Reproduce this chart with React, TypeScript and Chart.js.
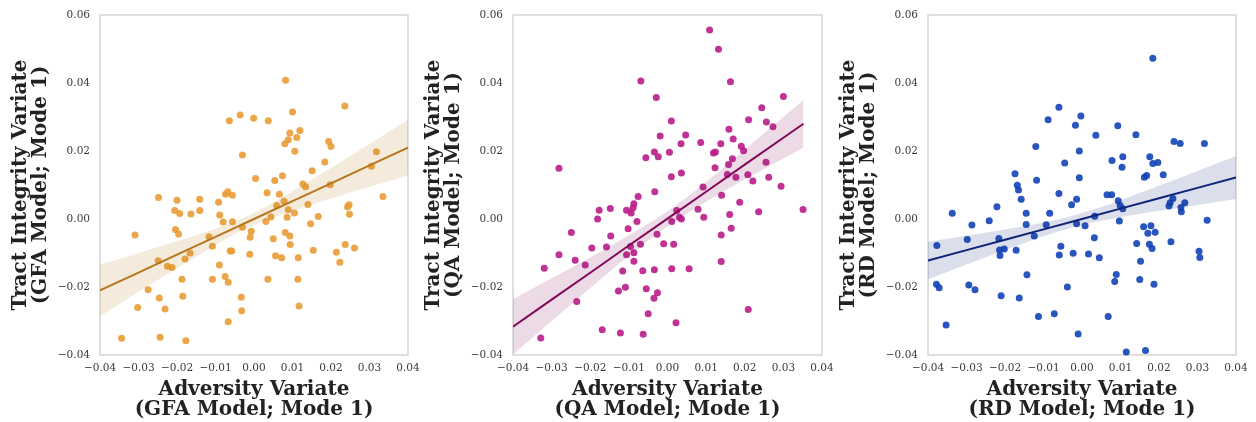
import { useEffect, useRef } from 'react';
import { Chart, registerables } from 'chart.js';

Chart.register(...registerables);

// ---------- data ----------
const gfaX = [0.0082, 0.0236, 0.0100, -0.0064, -0.0036, -0.0001, 0.0037, 0.0093, 0.0119, 0.0089, 0.0111, 0.0080, 0.0106, 0.0194, 0.0200, 0.0318, 0.0305, 0.0335, -0.0030, 0.0184, 0.0151, 0.0004, 0.0054, 0.0074, 0.0034, 0.0066, 0.0127, 0.0134, 0.0198, 0.0078, 0.0059, 0.0089, 0.0105, 0.0140, 0.0243, 0.0247, 0.0248, 0.0086, 0.0044, 0.0031, 0.0167, 0.0147, 0.0081, 0.0093, 0.0094, 0.0050, 0.0237, 0.0261, 0.0214, 0.0223, 0.0154, 0.0115, 0.0056, 0.0072, 0.0036, 0.0114, 0.0117, -0.0011, -0.0010, -0.0007, -0.0030, -0.0056, -0.0080, -0.0089, -0.0092, -0.0074, -0.0068, -0.0056, -0.0141, -0.0141, -0.0164, -0.0200, -0.0206, -0.0193, -0.0248, -0.0204, -0.0196, -0.0309, -0.0117, -0.0108, -0.0062, -0.0058, -0.0166, -0.0179, -0.0249, -0.0225, -0.0213, -0.0090, -0.0187, -0.0108, -0.0075, -0.0067, -0.0275, -0.0246, -0.0185, -0.0302, -0.0231, -0.0033, -0.0032, -0.0067, -0.0344, -0.0244, -0.0177];
const gfaY = [0.0408, 0.0332, 0.0315, 0.0289, 0.0306, 0.0296, 0.0289, 0.0253, 0.0260, 0.0233, 0.0240, 0.0221, 0.0199, 0.0228, 0.0213, 0.0198, 0.0155, 0.0066, 0.0188, 0.0168, 0.0142, 0.0119, 0.0113, 0.0127, 0.0077, 0.0073, 0.0103, 0.0095, 0.0101, 0.0052, 0.0040, 0.0027, 0.0018, 0.0043, 0.0035, 0.0042, 0.0014, 0.0005, 0.0006, -0.0007, 0.0007, -0.0014, -0.0040, -0.0050, -0.0075, -0.0058, -0.0075, -0.0085, -0.0098, -0.0127, -0.0092, -0.0114, -0.0108, -0.0114, -0.0177, -0.0177, -0.0256, -0.0104, -0.0054, -0.0036, -0.0024, -0.0008, -0.0009, 0.0012, 0.0049, 0.0073, 0.0080, 0.0070, 0.0058, 0.0025, 0.0015, 0.0055, 0.0025, 0.0016, 0.0063, -0.0031, -0.0044, -0.0047, -0.0052, -0.0080, -0.0094, -0.0094, -0.0100, -0.0118, -0.0123, -0.0139, -0.0143, -0.0135, -0.0177, -0.0177, -0.0169, -0.0186, -0.0208, -0.0232, -0.0227, -0.0260, -0.0265, -0.0230, -0.0270, -0.0302, -0.0351, -0.0348, -0.0358];

const qaX = [0.0109, 0.0132, -0.0069, 0.0163, -0.0029, 0.0300, 0.0244, 0.0210, 0.0256, 0.0273, 0.0010, 0.0159, -0.0019, 0.0047, 0.0170, 0.0035, 0.0086, 0.0138, 0.0191, 0.0197, 0.0119, 0.0124, 0.0005, -0.0034, -0.0024, -0.0056, 0.0168, 0.0123, 0.0158, 0.0255, 0.0155, 0.0177, 0.0208, 0.0221, 0.0262, 0.0294, 0.0010, 0.0036, -0.0281, 0.0092, -0.0033, -0.0076, 0.0140, 0.0187, 0.0079, 0.0094, 0.0161, 0.0236, 0.0351, 0.0024, 0.0031, 0.0036, 0.0011, -0.0087, -0.0089, -0.0106, -0.0094, -0.0079, -0.0148, -0.0177, -0.0181, -0.0102, -0.0147, -0.0249, -0.0158, -0.0196, -0.0281, -0.0239, -0.0213, -0.0319, -0.0235, -0.0096, -0.0087, -0.0106, -0.0070, -0.0087, -0.0027, -0.0010, 0.0016, -0.0116, -0.0064, -0.0034, 0.0011, 0.0056, 0.0139, 0.0165, 0.0139, -0.0109, -0.0127, -0.0055, -0.0026, -0.0035, 0.0209, -0.0050, 0.0022, -0.0169, -0.0122, -0.0063, -0.0328];
const qaY = [0.0556, 0.0499, 0.0406, 0.0404, 0.0357, 0.0360, 0.0327, 0.0292, 0.0285, 0.0271, 0.0288, 0.0264, 0.0244, 0.0247, 0.0235, 0.0221, 0.0225, 0.0221, 0.0214, 0.0201, 0.0194, 0.0197, 0.0196, 0.0197, 0.0183, 0.0180, 0.0177, 0.0151, 0.0160, 0.0167, 0.0131, 0.0123, 0.0130, 0.0112, 0.0123, 0.0096, 0.0124, 0.0135, 0.0149, 0.0094, 0.0080, 0.0066, 0.0070, 0.0049, 0.0029, 0.0005, 0.0013, 0.0021, 0.0028, 0.0025, 0.0005, 0.0000, -0.0007, 0.0045, 0.0033, 0.0026, 0.0018, -0.0007, 0.0031, 0.0026, 0.0000, -0.0029, -0.0050, -0.0040, -0.0082, -0.0085, -0.0105, -0.0121, -0.0135, -0.0145, -0.0243, -0.0081, -0.0099, -0.0105, -0.0074, -0.0124, -0.0045, -0.0073, -0.0074, -0.0153, -0.0152, -0.0149, -0.0146, -0.0146, -0.0047, -0.0027, -0.0125, -0.0201, -0.0212, -0.0205, -0.0217, -0.0233, -0.0266, -0.0279, -0.0305, -0.0326, -0.0335, -0.0339, -0.0350];

const rdX = [0.0184, -0.0060, -0.0088, -0.0003, -0.0017, 0.0093, 0.0036, 0.0140, 0.0239, 0.0255, 0.0318, -0.0120, -0.0007, -0.0045, 0.0078, 0.0106, 0.0104, 0.0176, 0.0184, 0.0197, 0.0211, 0.0162, 0.0168, -0.0007, -0.0118, -0.0174, -0.0168, -0.0165, -0.0158, -0.0060, -0.0014, -0.0027, 0.0065, 0.0077, 0.0094, 0.0099, 0.0106, 0.0236, 0.0229, 0.0226, 0.0267, 0.0257, 0.0258, 0.0325, -0.0221, -0.0337, -0.0241, -0.0286, -0.0145, -0.0145, -0.0084, -0.0093, -0.0014, 0.0008, 0.0033, 0.0097, 0.0160, 0.0179, 0.0171, 0.0190, 0.0142, 0.0175, 0.0182, 0.0231, -0.0298, -0.0377, -0.0216, -0.0202, -0.0214, -0.0213, -0.0171, -0.0124, -0.0055, -0.0059, -0.0023, 0.0017, 0.0032, 0.0045, 0.0152, 0.0304, 0.0306, -0.0143, -0.0378, -0.0371, -0.0294, -0.0278, -0.0210, -0.0163, -0.0038, 0.0089, 0.0085, 0.0150, 0.0187, -0.0113, -0.0072, 0.0068, -0.0353, -0.0010, 0.0115, 0.0165];
const rdY = [0.0473, 0.0329, 0.0292, 0.0303, 0.0276, 0.0274, 0.0246, 0.0248, 0.0228, 0.0222, 0.0222, 0.0213, 0.0200, 0.0165, 0.0172, 0.0183, 0.0152, 0.0183, 0.0163, 0.0166, 0.0130, 0.0123, 0.0128, 0.0121, 0.0114, 0.0133, 0.0099, 0.0085, 0.0058, 0.0075, 0.0058, 0.0042, 0.0071, 0.0071, 0.0054, 0.0040, 0.0030, 0.0060, 0.0048, 0.0038, 0.0048, 0.0034, 0.0021, -0.0004, 0.0036, 0.0017, -0.0005, -0.0018, 0.0017, -0.0016, 0.0017, -0.0017, -0.0014, -0.0020, 0.0008, -0.0006, -0.0023, -0.0020, -0.0042, -0.0039, -0.0072, -0.0074, -0.0087, -0.0067, -0.0060, -0.0078, -0.0057, -0.0088, -0.0091, -0.0107, -0.0092, -0.0050, -0.0080, -0.0106, -0.0101, -0.0103, -0.0055, -0.0114, -0.0124, -0.0095, -0.0113, -0.0164, -0.0192, -0.0202, -0.0194, -0.0208, -0.0226, -0.0232, -0.0200, -0.0163, -0.0184, -0.0178, -0.0192, -0.0287, -0.0279, -0.0287, -0.0312, -0.0338, -0.0391, -0.0387];

// regression lines and confidence bands
const gfaFitX = [-0.04, -0.03, -0.02, -0.01, 0, 0.01, 0.02, 0.03, 0.04];
const gfaFitY = [-0.021, -0.01575, -0.0105, -0.00525, 0, 0.00525, 0.0105, 0.01575, 0.021];
const gfaBandLo = [-0.0286, -0.02145, -0.0145, -0.00765, -0.0018, 0.00235, 0.006, 0.00945, 0.0128];
const gfaBandHi = [-0.0134, -0.01005, -0.0065, -0.00285, 0.0018, 0.00815, 0.015, 0.02205, 0.0292];

const qaFitX = [-0.04, -0.03, -0.02, -0.01, 0, 0.01, 0.02, 0.03, 0.0352];
const qaFitY = [-0.0317, -0.0237, -0.0158, -0.0078, 0.0001, 0.008, 0.016, 0.0239, 0.028];
const qaBandLo = [-0.0398, -0.03, -0.0203, -0.0108, -0.0021, 0.0051, 0.0116, 0.0178, 0.021];
const qaBandHi = [-0.0236, -0.0174, -0.0113, -0.0048, 0.0023, 0.0109, 0.0204, 0.03, 0.035];

const rdFitX = [-0.04, -0.03, -0.02, -0.01, 0, 0.01, 0.02, 0.03, 0.04];
const rdFitY = [-0.0122, -0.00915, -0.0061, -0.00305, 0, 0.00305, 0.0061, 0.00915, 0.0122];
const rdBandLo = [-0.0177, -0.01335, -0.0091, -0.00505, -0.00175, 0.00055, 0.0024, 0.00415, 0.0059];
const rdBandHi = [-0.0067, -0.00495, -0.0031, -0.00105, 0.00175, 0.00555, 0.0098, 0.01415, 0.0185];

const xTitleTop = 'Adversity Variate';
const yTitleTop = 'Tract Integrity Variate';
const modelLabels = ['(GFA Model; Mode 1)', '(QA Model; Mode 1)', '(RD Model; Mode 1)'];

// ---------- layout & style ----------
const W = 1256;
const H = 422;
const PLOT_TOP = 15;
const PLOT_BOTTOM = 355;
const Y_AXIS_W = 100;
const FONT = "'DejaVu Serif', 'Liberation Serif', serif";

type Spec = {
  left: number;
  width: number;
  plotW: number;
  xs: number[];
  ys: number[];
  fitX: number[];
  fitY: number[];
  lo: number[];
  hi: number[];
  point: string;
  line: string;
  band: string;
  label: string;
};

const specs: Spec[] = [
  { left: 0, width: 420, plotW: 308, xs: gfaX, ys: gfaY, fitX: gfaFitX, fitY: gfaFitY, lo: gfaBandLo, hi: gfaBandHi,
    point: 'rgba(232,156,52,0.9)', line: 'rgb(183,118,30)', band: 'rgba(183,118,30,0.15)', label: modelLabels[0] },
  { left: 413, width: 420, plotW: 309, xs: qaX, ys: qaY, fitX: qaFitX, fitY: qaFitY, lo: qaBandLo, hi: qaBandHi,
    point: 'rgba(185,29,136,0.9)', line: 'rgb(128,8,88)', band: 'rgba(128,8,88,0.15)', label: modelLabels[1] },
  { left: 828, width: 428, plotW: 308, xs: rdX, ys: rdY, fitX: rdFitX, fitY: rdFitY, lo: rdBandLo, hi: rdBandHi,
    point: 'rgba(18,67,183,0.9)', line: 'rgb(12,35,120)', band: 'rgba(12,35,120,0.15)', label: modelLabels[2] },
];

const fmt = (v: any) => {
  const n = Number(v);
  if (Math.abs(n) < 1e-9) return '0.00';
  return n.toFixed(2).replace('-', '\u2212');
};

const framePlugin = {
  id: 'frame',
  beforeDatasetsDraw(chart: any) {
    const { ctx, chartArea } = chart;
    ctx.save();
    ctx.strokeStyle = '#cccccc';
    ctx.lineWidth = 1.25;
    ctx.strokeRect(chartArea.left, chartArea.top, chartArea.right - chartArea.left, chartArea.bottom - chartArea.top);
    ctx.restore();
  },
};

function Panel({ spec }: { spec: Spec }) {
  const ref = useRef<HTMLCanvasElement | null>(null);
  useEffect(() => {
    if (!ref.current) return;
    const pts = spec.xs.map((x, i) => ({ x, y: spec.ys[i] }));
    const fit = spec.fitX.map((x, i) => ({ x, y: spec.fitY[i] }));
    const hi = spec.fitX.map((x, i) => ({ x, y: spec.hi[i] }));
    const lo = spec.fitX.map((x, i) => ({ x, y: spec.lo[i] }));
    const chart = new Chart(ref.current, {
      type: 'scatter',
      data: {
        datasets: [
          { type: 'line', data: fit, borderColor: spec.line, borderWidth: 2, pointRadius: 0, fill: false, tension: 0 } as any,
          { type: 'line', data: hi, borderColor: 'transparent', borderWidth: 0, pointRadius: 0, fill: '+1', backgroundColor: spec.band, cubicInterpolationMode: 'monotone' } as any,
          { type: 'line', data: lo, borderColor: 'transparent', borderWidth: 0, pointRadius: 0, fill: false, cubicInterpolationMode: 'monotone' } as any,
          { type: 'scatter', data: pts, backgroundColor: spec.point, borderWidth: 0, pointRadius: 3.5, clip: 6 } as any,
        ],
      },
      options: {
        animation: false,
        responsive: false,
        maintainAspectRatio: false,
        devicePixelRatio: 1,
        layout: { padding: { top: PLOT_TOP, left: 0, bottom: 0, right: spec.width - Y_AXIS_W - spec.plotW } },
        plugins: { legend: { display: false }, tooltip: { enabled: false } },
        scales: {
          x: {
            type: 'linear',
            min: -0.04,
            max: 0.04,
            grid: { display: false, drawTicks: false },
            border: { display: false },
            ticks: { stepSize: 0.01, callback: fmt, color: '#3a3a3a', font: { family: FONT, size: 10.5 }, padding: 7, maxRotation: 0, autoSkip: false },
            title: { display: true, text: [xTitleTop, spec.label], color: '#222', font: { family: FONT, size: 20, weight: 'bold', lineHeight: 1 }, padding: { top: 0, bottom: 2 } },
            afterFit: (s: any) => { s.height = H - PLOT_BOTTOM; s.paddingLeft = 0; s.paddingRight = 0; },
          },
          y: {
            type: 'linear',
            min: -0.04,
            max: 0.06,
            grid: { display: false, drawTicks: false },
            border: { display: false },
            ticks: { stepSize: 0.02, callback: fmt, color: '#3a3a3a', font: { family: FONT, size: 10.5 }, padding: 10 },
            title: { display: true, text: [yTitleTop, spec.label], color: '#222', font: { family: FONT, size: 20, weight: 'bold', lineHeight: 1 }, padding: { top: 11, bottom: 0 } },
            afterFit: (s: any) => { s.width = Y_AXIS_W; s.paddingTop = 0; s.paddingBottom = 0; },
          },
        },
      } as any,
      plugins: [framePlugin],
    });
    return () => chart.destroy();
  }, [spec]);
  return (
    <canvas
      ref={ref}
      width={spec.width}
      height={H}
      style={{ position: 'absolute', left: spec.left, top: 0, width: spec.width, height: H }}
    />
  );
}

export default function App() {
  return (
    <div style={{ position: 'absolute', left: 0, top: 0, width: W, height: H, background: '#fff', overflow: 'hidden' }}>
      {specs.map((s, i) => (
        <Panel key={i} spec={s} />
      ))}
    </div>
  );
}
